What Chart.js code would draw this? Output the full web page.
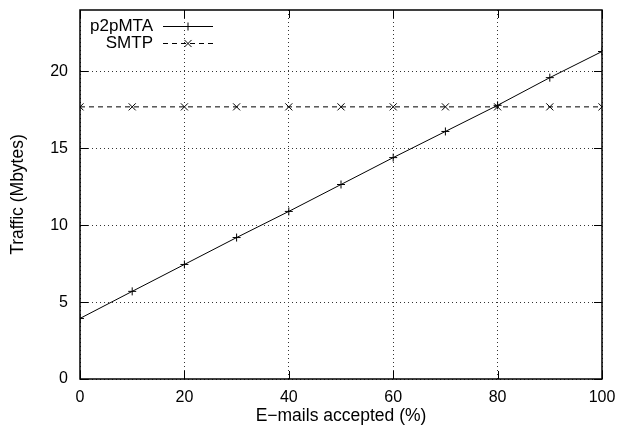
<!DOCTYPE html>
<html>
<head>
<meta charset="utf-8">
<script src="https://cdn.jsdelivr.net/npm/chart.js@4/dist/chart.umd.min.js"></script>
<style>
  html, body { margin: 0; padding: 0; background: #fff; }
  #wrap { width: 621px; height: 434px; }
</style>
</head>
<body>
<div id="wrap"><canvas id="chart"></canvas></div>
<script>
// values
const accepted = [0, 10, 20, 30, 40, 50, 60, 70, 80, 90, 100];
const p2pmta = [3.94, 5.7, 7.45, 9.2, 10.9, 12.65, 14.4, 16.1, 17.8, 19.6, 21.3];
const smtp = [17.7, 17.7, 17.7, 17.7, 17.7, 17.7, 17.7, 17.7, 17.7, 17.7, 17.7];
const xTicks = [0, 20, 40, 60, 80, 100];
const yTicks = [0, 5, 10, 15, 20];

const FAMILY = '"Liberation Sans", Arial, sans-serif';
const TICK_FONT = { family: FAMILY, size: 16 };
const TITLE_FONT = { family: FAMILY, size: 17.5 };
const LEGEND_SIZE = 17;

const toPoints = (ys) => accepted.map((x, i) => ({ x, y: ys[i] }));

// gnuplot style frame, inward ticks and legend
const gnuplotBits = {
  id: 'gnuplotBits',
  afterDatasetsDraw(chart) {
    const { ctx, chartArea: a, scales } = chart;
    ctx.save();
    ctx.strokeStyle = '#000';
    ctx.lineWidth = 1;
    ctx.setLineDash([]);
    ctx.beginPath();
    for (const v of xTicks) {
      const px = Math.round(scales.x.getPixelForValue(v)) + 0.5;
      ctx.moveTo(px, a.bottom); ctx.lineTo(px, a.bottom - 8);
      ctx.moveTo(px, a.top); ctx.lineTo(px, a.top + 8);
    }
    for (const v of yTicks) {
      const py = Math.round(scales.y.getPixelForValue(v)) + 0.5;
      ctx.moveTo(a.left, py); ctx.lineTo(a.left + 8, py);
      ctx.moveTo(a.right, py); ctx.lineTo(a.right - 8, py);
    }
    ctx.stroke();
    ctx.lineWidth = 1.5;
    ctx.strokeRect(a.left, a.top, a.right - a.left, a.bottom - a.top);

    // legend: text, then line sample with marker
    ctx.font = `${LEGEND_SIZE}px ${FAMILY}`;
    ctx.fillStyle = '#000';
    ctx.textAlign = 'right';
    ctx.textBaseline = 'middle';
    chart.data.datasets.forEach((ds, i) => {
      const y = a.top + 16 + i * 17;
      ctx.fillText(ds.label, a.left + 73, y);
      ctx.lineWidth = 1;
      ctx.setLineDash(ds.borderDash || []);
      ctx.beginPath();
      ctx.moveTo(a.left + 83, y + 0.5);
      ctx.lineTo(a.left + 133, y + 0.5);
      ctx.stroke();
      ctx.setLineDash([]);
      Chart.helpers.drawPoint(ctx, {
        pointStyle: ds.pointStyle, radius: ds.pointRadius, borderWidth: 1
      }, a.left + 108, y + 0.5);
    });
    ctx.restore();
  }
};

const noEdgePadding = (s) => {
  s.paddingTop = 0; s.paddingBottom = 0; s.paddingLeft = 0; s.paddingRight = 0;
};

new Chart(document.getElementById('chart'), {
  type: 'line',
  data: {
    datasets: [
      {
        label: 'p2pMTA',
        data: toPoints(p2pmta),
        borderColor: '#000',
        backgroundColor: '#000',
        borderWidth: 1,
        pointStyle: 'cross',
        pointRadius: 4,
        pointBorderWidth: 1,
        tension: 0
      },
      {
        label: 'SMTP',
        data: toPoints(smtp),
        borderColor: '#000',
        backgroundColor: '#000',
        borderWidth: 1,
        borderDash: [5, 4],
        pointStyle: 'crossRot',
        pointRadius: 5,
        pointBorderWidth: 1,
        tension: 0
      }
    ]
  },
  options: {
    responsive: true,
    maintainAspectRatio: false,
    animation: false,
    layout: { padding: { top: 10, right: 19, left: 0, bottom: 0 } },
    plugins: { legend: { display: false }, tooltip: { enabled: false } },
    scales: {
      x: {
        type: 'linear',
        min: 0,
        max: 100,
        afterBuildTicks: (s) => { s.ticks = xTicks.map((v) => ({ value: v })); },
        afterFit: (s) => { s.height = 55; noEdgePadding(s); },
        grid: { color: '#333', lineWidth: 1, drawTicks: false },
        border: { display: false, dash: [1, 3] },
        ticks: { color: '#000', font: TICK_FONT, padding: 9, maxRotation: 0 },
        title: { display: true, text: 'E\u2212mails accepted (%)', color: '#000', font: TITLE_FONT, padding: { bottom: 7 } }
      },
      y: {
        min: 0,
        max: 24,
        afterBuildTicks: (s) => { s.ticks = yTicks.map((v) => ({ value: v })); },
        afterFit: (s) => { s.width = 80; noEdgePadding(s); },
        grid: { color: '#333', lineWidth: 1, drawTicks: false },
        border: { display: false, dash: [1, 3] },
        ticks: { color: '#000', font: TICK_FONT, padding: 12 },
        title: { display: true, text: 'Traffic (Mbytes)', color: '#000', font: TITLE_FONT, padding: { top: 8 } }
      }
    }
  },
  plugins: [gnuplotBits]
});
</script>
</body>
</html>
